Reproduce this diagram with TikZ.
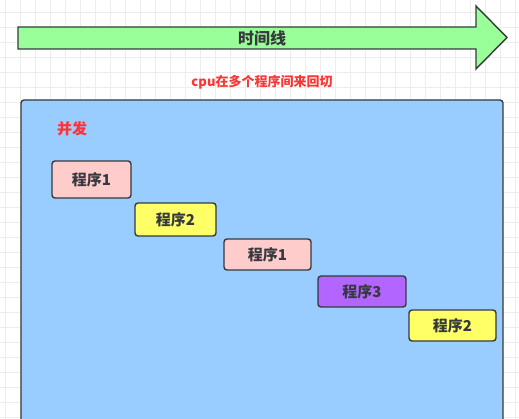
\documentclass[tikz,border=0pt]{standalone}
\usepackage{fontspec}
\setmainfont{Noto Sans CJK SC}
\usepackage{xcolor}
\usetikzlibrary{positioning}

\definecolor{bordergray}{HTML}{36393D}
\definecolor{gridgray}{HTML}{EDEDED}
\definecolor{arrowgreen}{HTML}{99FF99}
\definecolor{panelblue}{HTML}{99CCFF}
\definecolor{progpink}{HTML}{FFCCCC}
\definecolor{progyellow}{HTML}{FFFF66}
\definecolor{progpurple}{HTML}{B266FF}
\definecolor{notered}{HTML}{FF3333}

\begin{document}
\begin{tikzpicture}[
    x=1pt, y=-1pt,
    gridline/.style={draw=gridgray, line width=0.6pt},
    prog/.style={rectangle, draw=bordergray, line width=1.4pt, rounded corners=3pt, text=bordergray, font=\fontsize{15}{17}\selectfont\bfseries, inner sep=0pt},
    note/.style={text=notered, font=\fontsize{13}{15}\selectfont\bfseries}
]

\useasboundingbox (0,0) rectangle (519,419);
\clip (0,0) rectangle (519,419);
\fill[white] (0,0) rectangle (519,419);

% background grid
\foreach \gx in {5,20,...,515} \draw[gridline] (\gx,0) -- (\gx,419);
\foreach \gy in {12,27,...,417} \draw[gridline] (0,\gy) -- (519,\gy);

% time line arrow
\draw[fill=arrowgreen, draw=bordergray, line width=1.4pt, line join=miter]
    (18,27) -- (476,27) -- (476,6) -- (507,37.5) -- (476,69) -- (476,49) -- (18,49) -- cycle;
\node[text=bordergray, font=\fontsize{16}{18}\selectfont\bfseries] (timeline) at (262,38) {时间线};

\node[note] (switch) at (262,82) {cpu在多个程序间来回切};

% panel
\draw[fill=panelblue, draw=bordergray, line width=1.4pt, rounded corners=3pt] (21,100) rectangle (503,440);
\node[note, font=\fontsize{15}{17}\selectfont\bfseries] (concurrent) at (72,129) {并发};

\node[prog, fill=progpink, minimum width=79pt, minimum height=37pt] (progA) at (91.5,179.5) {程序1};
\node[prog, fill=progyellow, minimum width=81pt, minimum height=33pt] (progB) at (175.5,219.5) {程序2};
\node[prog, fill=progpink, minimum width=87pt, minimum height=31pt] (progC) at (267.5,254.5) {程序1};
\node[prog, fill=progpurple, minimum width=88pt, minimum height=31pt] (progD) at (362,291.5) {程序3};
\node[prog, fill=progyellow, minimum width=87pt, minimum height=31pt] (progE) at (452.5,325.5) {程序2};

\end{tikzpicture}
\end{document}
